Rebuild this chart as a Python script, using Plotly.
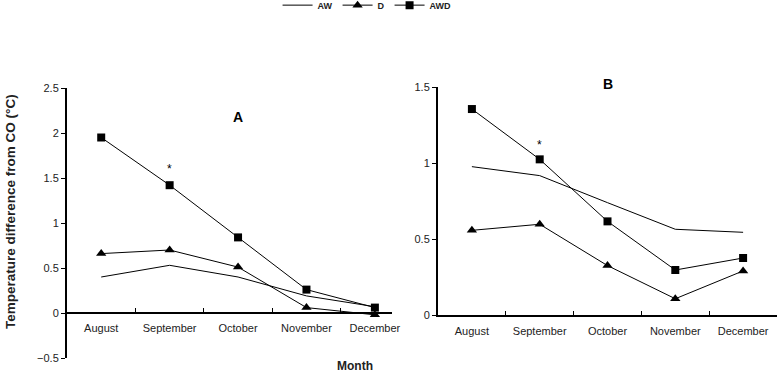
import plotly.graph_objects as go

months = ["August", "September", "October", "November", "December"]

# Panel A
a_aw = [0.40, 0.53, 0.40, 0.19, 0.07]
a_d = [0.66, 0.70, 0.51, 0.06, -0.02]
a_awd = [1.95, 1.42, 0.84, 0.26, 0.06]

# Panel B
b_aw = [0.976, 0.917, 0.739, 0.564, 0.544]
b_d = [0.557, 0.597, 0.325, 0.107, 0.29]
b_awd = [1.355, 1.024, 0.616, 0.296, 0.375]

W, H = 781, 375
FONT = "Liberation Sans, Arial, sans-serif"

def px(x):
    return x / W

def py(y):
    return 1 - y / H

fig = go.Figure()

styles = {
    "AW": dict(mode="lines", line=dict(color="black", width=1)),
    "D": dict(mode="lines+markers", line=dict(color="black", width=1),
              marker=dict(symbol="triangle-up", size=9, color="black")),
    "AWD": dict(mode="lines+markers", line=dict(color="black", width=1),
                marker=dict(symbol="square", size=8, color="black")),
}

for name, vals in [("AW", a_aw), ("D", a_d), ("AWD", a_awd)]:
    fig.add_trace(go.Scatter(x=months, y=vals, name=name, xaxis="x", yaxis="y",
                             showlegend=True, **styles[name]))
for name, vals in [("AW", b_aw), ("D", b_d), ("AWD", b_awd)]:
    fig.add_trace(go.Scatter(x=months, y=vals, name=name, xaxis="x2", yaxis="y2",
                             showlegend=False, **styles[name]))

ya_dom = [py(358), py(88)]
yb_dom = [py(315), py(87)]
ya_range = [-0.5, 2.5]
zero_pos = ya_dom[0] + (ya_dom[1] - ya_dom[0]) * (0 - ya_range[0]) / (ya_range[1] - ya_range[0])

tickfont = dict(family=FONT, size=11, color="#222")

fig.update_layout(
    width=W, height=H,
    margin=dict(l=0, r=0, t=0, b=0, autoexpand=False),
    paper_bgcolor="white", plot_bgcolor="white",
    showlegend=True,
    legend=dict(orientation="h", x=0.47, xanchor="center", y=1.025, yanchor="top",
                font=dict(family=FONT, size=9, color="#222", weight="bold"),
                itemwidth=30, bgcolor="rgba(0,0,0,0)"),
    xaxis=dict(domain=[px(67), px(392)], type="category", categoryorder="array",
               categoryarray=months, range=[-0.5, 4.25], anchor="free",
               position=zero_pos, showline=True, linecolor="black", linewidth=2,
               ticks="inside", ticklen=4, tickcolor="black", tickson="boundaries",
               showgrid=False, tickfont=tickfont, zeroline=False, ticklabelstandoff=5),
    yaxis=dict(domain=ya_dom, range=ya_range, dtick=0.5, anchor="x",
               showline=True, linecolor="black", linewidth=2,
               ticks="outside", ticklen=4, tickcolor="black", showgrid=False,
               zeroline=False, tickfont=tickfont, tickformat="~g"),
    xaxis2=dict(domain=[px(438), px(777)], type="category", categoryorder="array",
                categoryarray=months, range=[-0.5, 4.5], anchor="y2",
                showline=True, linecolor="black", linewidth=2,
                ticks="inside", ticklen=4, tickcolor="black", tickson="boundaries",
                showgrid=False, tickfont=tickfont, zeroline=False, ticklabelstandoff=5),
    yaxis2=dict(domain=yb_dom, range=[0, 1.5], dtick=0.5, anchor="x2",
                showline=True, linecolor="black", linewidth=2,
                ticks="outside", ticklen=4, tickcolor="black", showgrid=False,
                zeroline=False, tickfont=tickfont, tickformat="~g"),
)

ann = []
ann.append(dict(text="A", x="October", y=py(117), xref="x", yref="paper", showarrow=False,
                xanchor="center", yanchor="middle",
                font=dict(family=FONT, size=14, color="black", weight="bold")))
ann.append(dict(text="B", x="October", y=py(84), xref="x2", yref="paper", showarrow=False,
                xanchor="center", yanchor="middle",
                font=dict(family=FONT, size=14, color="black", weight="bold")))
ann.append(dict(text="*", x="September", y=1.6, xref="x", yref="y", showarrow=False,
                xanchor="center", yanchor="middle",
                font=dict(family=FONT, size=12, color="black")))
ann.append(dict(text="*", x="September", y=1.12, xref="x2", yref="y2", showarrow=False,
                xanchor="center", yanchor="middle",
                font=dict(family=FONT, size=12, color="black")))
ann.append(dict(text="Month", x=px(355), y=py(366), xref="paper", yref="paper",
                xanchor="center", yanchor="middle", showarrow=False,
                font=dict(family=FONT, size=12, color="#222", weight="bold")))
ann.append(dict(text="Temperature difference from CO (°C)", x=px(10), y=py(212),
                xref="paper", yref="paper", textangle=-90, showarrow=False,
                xanchor="center", yanchor="middle",
                font=dict(family=FONT, size=13.5, color="#222", weight="bold")))
fig.update_layout(annotations=ann)

fig.write_html("out.html", config={"displayModeBar": False},
               post_script="document.body.style.margin='0';document.body.style.padding='0';")
